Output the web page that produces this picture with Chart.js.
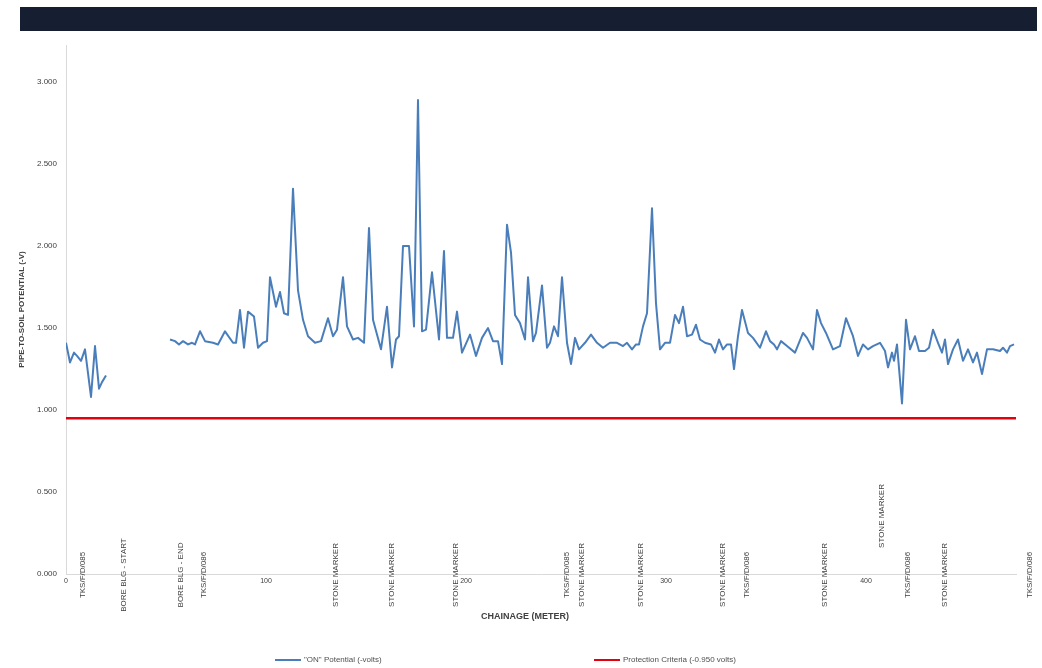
<!DOCTYPE html>
<html>
<head>
<meta charset="utf-8">
<script src="https://cdn.jsdelivr.net/npm/chart.js@4.4.1/dist/chart.umd.min.js"></script>
<style>
  html, body { margin: 0; padding: 0; background: #fff; }
  #wrap { position: relative; width: 1042px; height: 668px; }
  #band { position: absolute; left: 20px; top: 7px; width: 1017px; height: 24px; background: #161e31; }
  #chart { position: absolute; left: 0; top: 0; }
  .leg { position: absolute; top: 655px; font: 8px "Liberation Sans", Arial, sans-serif; color: #505050; white-space: nowrap; }
  .leg i { display: inline-block; width: 26px; height: 0; vertical-align: middle; margin-right: 3px; }
</style>
</head>
<body>
<div id="wrap">
  <canvas id="chart" width="1042" height="668"></canvas>
  <div id="band"></div>
  <div class="leg" id="leg-on" style="left:275px"><i style="border-top:2px solid #4a7ebb"></i><span></span></div>
  <div class="leg" id="leg-pc" style="left:594px"><i style="border-top:2px solid #e3000f"></i><span></span></div>
</div>
<script>
// chainage (m) and pipe-to-soil "ON" potential (-V); null = no reading
const chainage = [
  0, 2, 4, 5.5, 7.5, 9.5, 12.5, 14.5, 16.5, 18, 20,
  36,
  52, 54.5, 56.5, 58.5, 61, 63, 64.5, 67, 69.5, 73.5, 76, 79.5, 83.5, 85, 87, 89, 91, 94, 96, 98.5,
  100.5, 102, 105, 107, 109, 111, 113.5, 116, 118.5, 121, 124.5, 127.5, 131, 133.5, 135.5, 138.5, 140.5,
  143.5, 146, 149, 151.5, 153.5, 157.5, 160.5, 163, 165, 166.5, 168.5, 171.5, 174, 176, 178, 180, 183,
  186.5, 189, 190.5, 193.5, 195.5, 198, 202, 205, 208, 211, 213.5, 216, 218, 220.5, 222.5, 224.5, 227,
  229.5, 231, 233.5, 235, 238, 240.5, 242, 244, 246, 248, 250.5, 252.5, 254.5, 256.5, 259.5, 262.5,
  265.5, 268.5, 272, 275.5, 278.5, 280.5, 283, 285, 286.5, 288.5, 290.5, 293, 295, 297, 299.5, 302,
  304.5, 306.5, 308.5, 310.5, 313, 315, 317, 319.5, 322.5, 324.5, 326.5, 328.5, 330.5, 332.5, 334, 336,
  338, 341, 343.5, 347, 350, 352, 354, 355.5, 357.5, 360.5, 364.5, 368.5, 370.5, 373.5, 375.5, 377.5,
  380, 383.5, 387, 390, 393.5, 396, 398.5, 401, 403.5, 407, 409.5, 411, 413, 414, 415.5, 418, 420, 422,
  424.5, 426.5, 429.5, 431.5, 433.5, 436, 438, 439.5, 441, 443.5, 446, 448.5, 451, 453.5, 455.5, 458,
  460.5, 463.5, 467, 468.5, 470.5, 472, 474
];
const onPotential = [
  1.41, 1.29, 1.35, 1.33, 1.30, 1.37, 1.08, 1.39, 1.13, 1.17, 1.21,
  null,
  1.43, 1.42, 1.40, 1.42, 1.40, 1.41, 1.40, 1.48, 1.42, 1.41, 1.40, 1.48, 1.41, 1.41, 1.61, 1.38, 1.60, 1.57, 1.38, 1.41,
  1.42, 1.81, 1.63, 1.72, 1.59, 1.58, 2.35, 1.73, 1.55, 1.45, 1.41, 1.42, 1.56, 1.45, 1.49, 1.81, 1.51,
  1.43, 1.44, 1.41, 2.11, 1.55, 1.37, 1.63, 1.26, 1.43, 1.45, 2.00, 2.00, 1.51, 2.89, 1.48, 1.49, 1.84,
  1.43, 1.97, 1.44, 1.44, 1.60, 1.35, 1.46, 1.33, 1.44, 1.50, 1.42, 1.42, 1.28, 2.13, 1.96, 1.58, 1.53,
  1.43, 1.81, 1.42, 1.47, 1.76, 1.38, 1.41, 1.51, 1.45, 1.81, 1.41, 1.28, 1.44, 1.37, 1.41, 1.46,
  1.41, 1.38, 1.41, 1.41, 1.39, 1.41, 1.37, 1.40, 1.40, 1.51, 1.59, 2.23, 1.65, 1.37, 1.41, 1.41,
  1.58, 1.53, 1.63, 1.45, 1.46, 1.52, 1.43, 1.41, 1.40, 1.35, 1.43, 1.37, 1.40, 1.40, 1.25, 1.45,
  1.61, 1.47, 1.44, 1.38, 1.48, 1.42, 1.40, 1.37, 1.42, 1.39, 1.35, 1.47, 1.44, 1.37, 1.61, 1.53,
  1.47, 1.37, 1.39, 1.56, 1.45, 1.33, 1.40, 1.37, 1.39, 1.41, 1.36, 1.26, 1.35, 1.30, 1.40, 1.04, 1.55, 1.37,
  1.45, 1.36, 1.36, 1.38, 1.49, 1.41, 1.35, 1.43, 1.28, 1.37, 1.43, 1.30, 1.37, 1.29, 1.35, 1.22,
  1.37, 1.37, 1.36, 1.38, 1.35, 1.39, 1.40
];
const protectionCriteria = 0.95;
const xRange = [0, 475];
const yRange = [0, 3.226];
const xTicks = [0, 100, 200, 300, 400];
const yTicks = [0, 0.5, 1.0, 1.5, 2.0, 2.5, 3.0];

// feature markers along the route
const markerLabels = [
  'TKS/F/D/085', 'BORE BLG - START', 'BORE BLG - END', 'TKS/F/D/086', 'STONE MARKER', 'STONE MARKER',
  'STONE MARKER', 'TKS/F/D/085', 'STONE MARKER', 'STONE MARKER', 'STONE MARKER', 'TKS/F/D/086',
  'STONE MARKER', 'STONE MARKER', 'TKS/F/D/086', 'STONE MARKER', 'TKS/F/D/086'
];
const markerChainage = [8.5, 29, 57.5, 69, 135, 163, 195, 250.5, 258, 287.5, 328.5, 340.5, 379.5, 408, 421, 439.5, 482];

const seriesNames = ['"ON" Potential (-volts)', 'Protection Criteria (-0.950 volts)'];
const xTitle = 'CHAINAGE (METER)';

const FONT = '"Liberation Sans", Arial, sans-serif';
const GREY = '#404040';

// rotated marker labels + x title centred on the whole canvas (as in the source)
const markersPlugin = {
  id: 'markers',
  afterDatasetsDraw(chart, args, opts) {
    const { ctx, scales: { x } } = chart;
    const base = x.top;
    ctx.save();
    ctx.font = `8px ${FONT}`;
    ctx.fillStyle = GREY;
    ctx.textAlign = 'center';
    ctx.textBaseline = 'middle';
    markerLabels.forEach((lbl, i) => {
      const px = x.getPixelForValue(markerChainage[i]);
      const cy = opts.raised.includes(i) ? base - 58 : base + 1;
      ctx.save();
      ctx.translate(px, cy);
      ctx.rotate(-Math.PI / 2);
      ctx.fillText(lbl, 0, 0);
      ctx.restore();
    });
    ctx.font = `bold 9px ${FONT}`;
    ctx.fillText(xTitle, chart.width / 2 + 4, base + 43);
    ctx.restore();
  }
};

const points = chainage.map((c, i) => ({ x: c, y: onPotential[i] }));
const pcLine = xRange.map(c => ({ x: c, y: protectionCriteria }));

new Chart(document.getElementById('chart'), {
  type: 'line',
  data: { datasets: [
    { label: seriesNames[0], data: points, borderColor: '#4a7ebb', borderWidth: 2, borderJoinStyle: 'round', pointRadius: 0, tension: 0, spanGaps: false },
    { label: seriesNames[1], data: pcLine, borderColor: '#e3000f', borderWidth: 2.5, pointRadius: 0, tension: 0 }
  ]},
  options: {
    responsive: false,
    animation: false,
    layout: { padding: { top: 45, right: 26, bottom: 42, left: 0 } },
    plugins: { legend: { display: false }, tooltip: { enabled: false }, markers: { raised: [13] } },
    scales: {
      x: {
        type: 'linear', min: xRange[0], max: xRange[1],
        afterBuildTicks: s => { s.ticks = xTicks.map(v => ({ value: v })); },
        afterFit: s => { s.height = 52; },
        grid: { display: false, drawTicks: false },
        border: { display: true, color: '#d9d9d9', width: 1 },
        ticks: { font: { family: FONT, size: 7 }, color: GREY, padding: 3, maxRotation: 0, autoSkip: false },
        title: { display: false }
      },
      y: {
        min: yRange[0], max: yRange[1],
        afterBuildTicks: s => { s.ticks = yTicks.map(v => ({ value: v })); },
        afterFit: s => { s.width = 66; },
        grid: { display: false, drawTicks: false },
        border: { display: true, color: '#d9d9d9', width: 1 },
        ticks: { font: { family: FONT, size: 8 }, color: GREY, padding: 9, callback: v => v.toFixed(3) },
        title: { display: true, text: 'PIPE-TO-SOIL POTENTIAL (-V)', font: { family: FONT, size: 8, weight: 'bold' }, color: GREY, padding: { top: 17, bottom: 0 } }
      }
    }
  },
  plugins: [markersPlugin]
});

document.querySelector('#leg-on span').textContent = seriesNames[0];
document.querySelector('#leg-pc span').textContent = seriesNames[1];
</script>
</body>
</html>
